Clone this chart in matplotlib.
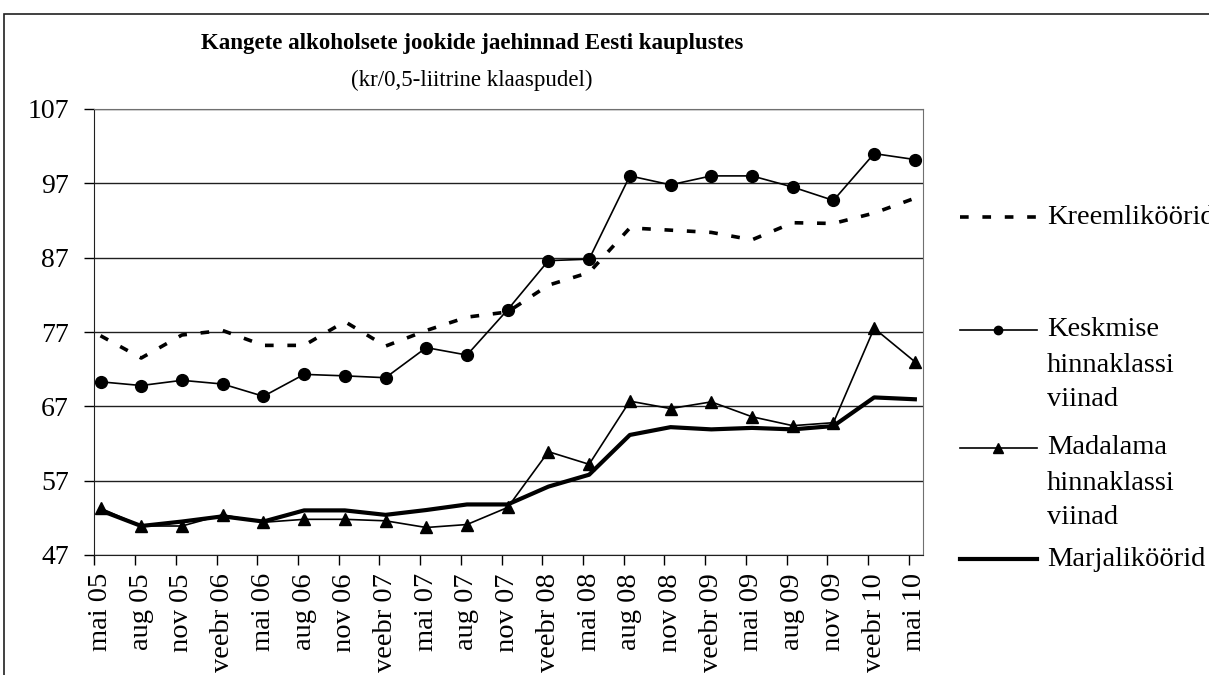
import matplotlib
matplotlib.use('Agg')
import matplotlib.pyplot as plt
import matplotlib.patches as patches
from matplotlib.lines import Line2D
import numpy as np

plt.rcParams['font.family'] = ['Liberation Serif', 'DejaVu Serif']

# data
periods = ['mai 05', 'aug 05', 'nov 05', 'veebr 06', 'mai 06', 'aug 06', 'nov 06',
           'veebr 07', 'mai 07', 'aug 07', 'nov 07', 'veebr 08', 'mai 08', 'aug 08',
           'nov 08', 'veebr 09', 'mai 09', 'aug 09', 'nov 09', 'veebr 10', 'mai 10']
kreem = [76.5, 73.5, 76.6, 77.2, 75.2, 75.2, 78.4, 75.1, 77.2, 79.0, 79.7,
         83.3, 85.0, 91.0, 90.7, 90.4, 89.4, 91.7, 91.6, 93.0, 95.0]
keskmise = [70.3, 69.8, 70.5, 70.0, 68.35, 71.3, 71.1, 70.85, 74.9, 73.9, 80.0,
            86.6, 86.8, 98.0, 96.8, 98.0, 98.0, 96.5, 94.7, 101.0, 100.2]
madalama = [53.3, 50.9, 50.9, 52.4, 51.4, 51.8, 51.8, 51.6, 50.7, 51.1, 53.4,
            60.9, 59.2, 67.7, 66.7, 67.6, 65.6, 64.4, 64.8, 77.5, 73.0]
marja = [53.0, 50.9, 51.5, 52.2, 51.5, 53.0, 53.0, 52.4, 53.05, 53.8, 53.8,
         56.2, 57.8, 63.15, 64.2, 63.9, 64.1, 63.9, 64.35, 68.2, 67.95]
yticks = [47, 57, 67, 77, 87, 97, 107]

W, H = 1209, 675
fig = plt.figure(figsize=(W / 100, H / 100), dpi=100)
ax = fig.add_axes([94 / W, 1 - 555 / H, (923 - 94) / W, (555 - 109) / H])

x = np.arange(len(periods))
styles = [
    (kreem, 'Kreemliköörid', dict(lw=2.6, ls=(0, (2.4, 3.8)))),
    (keskmise, 'Keskmise\nhinnaklassi\nviinad', dict(lw=1.2, marker='o', ms=8.5)),
    (madalama, 'Madalama\nhinnaklassi\nviinad', dict(lw=1.2, marker='^', ms=9)),
    (marja, 'Marjaliköörid', dict(lw=3.0)),
]
for vals, lab, st in styles:
    ax.plot(x, vals, color='black', **st)

ax.set_ylim(47, 107)
ax.set_xlim(-0.16, 20.2)
ax.set_yticks(yticks)
ax.yaxis.grid(True, color='#202020', lw=1.0)
ax.set_axisbelow(True)
ax.tick_params(axis='y', direction='out', length=7, width=1, pad=11, labelsize=20)

ax.set_xticks(x)
ax.set_xticklabels(periods, rotation=90, fontsize=20.5)
ax.set_xticks(x - 0.15, minor=True)
ax.tick_params(axis='x', which='major', length=0, pad=13)
ax.tick_params(axis='x', which='minor', direction='out', length=7, width=1)

for s in ['left', 'bottom']:
    ax.spines[s].set_color('#202020')
for s in ['top', 'right']:
    ax.spines[s].set_color('#707070')

fig.text(472 / W, 1 - 44 / H, 'Kangete alkoholsete jookide jaehinnad Eesti kauplustes',
         ha='center', va='center', fontsize=16.5, fontweight='bold')
fig.text(472 / W, 1 - 80 / H, '(kr/0,5-liitrine klaaspudel)',
         ha='center', va='center', fontsize=16.5)

# legend to the right, handle level with the first text line
leg_y = [217, 330, 448, 559]
line_gap = 35
for (vals, lab, st), yy in zip(styles, leg_y):
    hs = dict(st)
    if 'ms' in hs:
        hs['ms'] = hs['ms'] - 2.5
        hs['markevery'] = [1]
    fig.add_artist(Line2D([960 / W, 998 / W, 1037 / W], [1 - yy / H] * 3,
                          transform=fig.transFigure, color='black', **hs))
    for j, part in enumerate(lab.split('\n')):
        fig.text(1047 / W, 1 - (yy + j * line_gap) / H, part, ha='left', va='center',
                 fontsize=20.5)

fig.patches.append(patches.Rectangle((4 / W, -0.1), 1.2, 1.1 - 14 / H,
                                     transform=fig.transFigure, fill=False,
                                     edgecolor='#202020', lw=1.2))

fig.savefig('out.png', dpi=100)
